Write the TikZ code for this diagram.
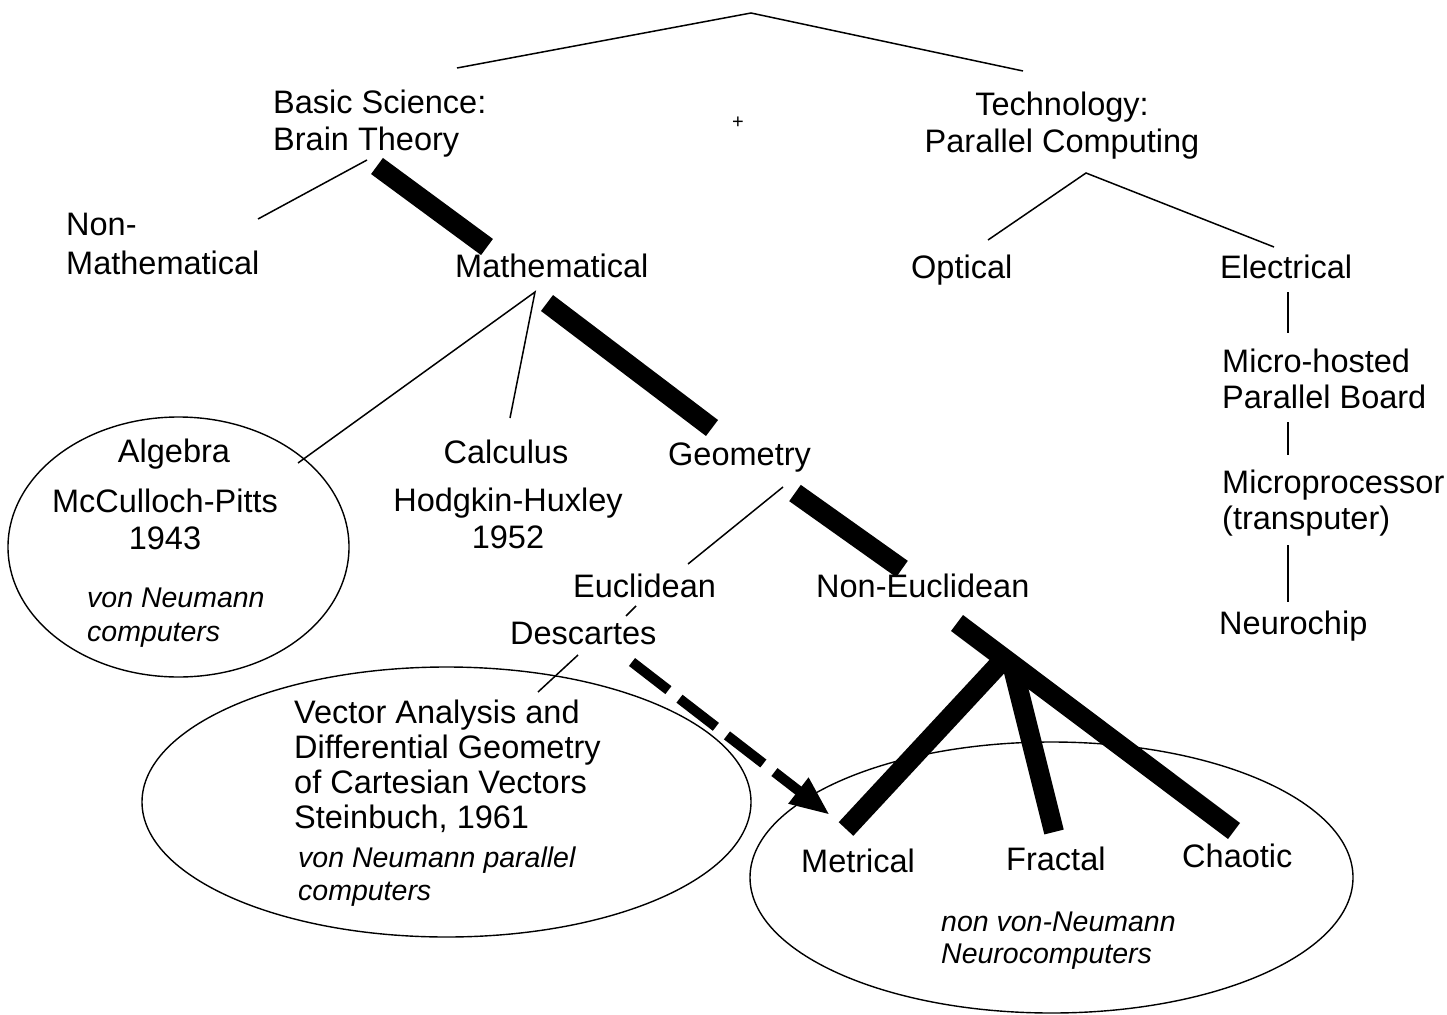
\documentclass[tikz,border=0pt]{standalone}
\usepackage{fontspec}
\setmainfont{Liberation Sans}
\usetikzlibrary{arrows.meta}
\begin{document}
\begin{tikzpicture}[x=1pt,y=-1pt,
  lbl/.style={inner sep=0pt, font=\fontsize{32.5}{#1}\selectfont},
  lbl/.default=37,
  ital/.style={inner sep=0pt, font=\fontsize{28.5}{#1}\selectfont\itshape, align=left, anchor=north west},
  ital/.default=33,
  thin/.style={line width=1.5pt},
  bar/.style={line width=20pt, line cap=butt},
  oval/.style={draw, line width=1.4pt},
  dasharrow/.style={line width=10pt, dash pattern=on 46pt off 14pt,
    -{Triangle[length=40pt,width=30pt]}}
]
\useasboundingbox (0,0) rectangle (1447,1014);

% ---------- enclosing ovals ----------
\draw[oval] (178.5,547) ellipse [x radius=170.5, y radius=130];
\draw[oval] (446.5,802) ellipse [x radius=304.5, y radius=135];
\draw[oval] (1051.5,877.5) ellipse [x radius=301.5, y radius=135.5];

% ---------- labels ----------
\node[lbl, align=left, anchor=north west] (basic) at (273,89.5) {Basic Science:\\Brain Theory};
\node[lbl, align=center, anchor=north] (tech) at (1062,91.5) {Technology:\\Parallel Computing};
\node[inner sep=0pt, font=\fontsize{20}{24}\selectfont] (plus) at (738,123) {+};

\node[lbl=39, align=left, anchor=north west] (nonmath) at (66,213) {Non-\\Mathematical};
\node[lbl, anchor=base west] (math) at (455,277) {Mathematical};
\node[lbl, anchor=base west] (optical) at (911,278) {Optical};
\node[lbl, anchor=base west] (electrical) at (1220,278) {Electrical};

\node[lbl=36.5, align=left, anchor=north west] (board) at (1222,348.5) {Micro-hosted\\Parallel Board};
\node[lbl=36, align=left, anchor=north west] (cpu) at (1222,469.5) {Microprocessor\\(transputer)};
\node[lbl, anchor=base west] (neurochip) at (1219,634) {Neurochip};

\node[lbl, anchor=base] (algebra) at (174,462) {Algebra};
\node[lbl, align=center, anchor=north] (mcp) at (165,488.5) {McCulloch-Pitts\\1943};
\node[ital=34] (vn1) at (87,588) {von Neumann\\computers};

\node[lbl, anchor=base] (calculus) at (506,463) {Calculus};
\node[lbl, align=center, anchor=north] (hh) at (508,487.5) {Hodgkin-Huxley\\1952};

\node[lbl, anchor=base west] (geometry) at (668,465) {Geometry};
\node[lbl, anchor=base west] (eucl) at (573,597) {Euclidean};
\node[lbl, anchor=base west] (noneucl) at (816,597) {Non-Euclidean};
\node[lbl, anchor=base west] (descartes) at (510,644) {Descartes};

\node[lbl=35, align=left, anchor=north west] (vector) at (294,699.5)
  {Vector Analysis and\\Differential Geometry\\of Cartesian Vectors\\Steinbuch, 1961};
\node[ital] (vn2) at (298,847) {von Neumann parallel\\computers};

\node[lbl, anchor=base west] (metrical) at (801,872) {Metrical};
\node[lbl, anchor=base west] (fractal) at (1006,870) {Fractal};
\node[lbl, anchor=base west] (chaotic) at (1182,867) {Chaotic};
\node[ital=32] (vn3) at (941,912) {non von-Neumann\\Neurocomputers};

% ---------- connector end points ----------
\coordinate (root) at (751,13);
\coordinate (basic-in) at (457,68);
\coordinate (tech-in) at (1023,71);
\coordinate (basic-out) at (367,160);
\coordinate (nonmath-in) at (258,219);
\coordinate (tech-out) at (1086,173);
\coordinate (optical-in) at (988,240);
\coordinate (electrical-in) at (1274,247);
\coordinate (electrical-out) at (1288,292);
\coordinate (board-in) at (1288,333);
\coordinate (board-out) at (1288,422);
\coordinate (cpu-in) at (1288,455);
\coordinate (cpu-out) at (1288,545);
\coordinate (neurochip-in) at (1288,602);
\coordinate (math-out) at (535,292);
\coordinate (algebra-in) at (298,463);
\coordinate (calculus-in) at (510,418);
\coordinate (geometry-out) at (783,487);
\coordinate (eucl-in) at (688,564);
\coordinate (eucl-out) at (636,606);
\coordinate (descartes-in) at (626,616);
\coordinate (descartes-out) at (578,655);
\coordinate (vector-in) at (538,692);
\coordinate (descartes-arr) at (632,662);
\coordinate (metrical-arr) at (830,815);

\coordinate (bar1-a) at (377,166);  \coordinate (bar1-b) at (487,247);
\coordinate (bar2-a) at (547,303);  \coordinate (bar2-b) at (712,428);
\coordinate (bar3-a) at (795,493);  \coordinate (bar3-b) at (902,569);
\coordinate (fork-top) at (957,623); \coordinate (chaotic-in) at (1234,831);
\coordinate (fork-m) at (1003,660); \coordinate (metrical-in) at (846,829);
\coordinate (fork-f) at (1012,664); \coordinate (fractal-in) at (1054,832);

% ---------- thin branches ----------
\draw[thin] (basic-in) -- (root) -- (tech-in);
\draw[thin] (basic-out) -- (nonmath-in);
\draw[thin] (optical-in) -- (tech-out) -- (electrical-in);
\draw[thin] (algebra-in) -- (math-out) -- (calculus-in);
\draw[thin] (geometry-out) -- (eucl-in);
\draw[thin] (eucl-out) -- (descartes-in);
\draw[thin] (descartes-out) -- (vector-in);
\draw[thin] (electrical-out) -- (board-in);
\draw[thin] (board-out) -- (cpu-in);
\draw[thin] (cpu-out) -- (neurochip-in);

% ---------- heavy path ----------
\draw[bar] (bar1-a) -- (bar1-b);
\draw[bar] (bar2-a) -- (bar2-b);
\draw[bar] (bar3-a) -- (bar3-b);
\draw[bar] (fork-top) -- (chaotic-in);
\draw[bar] (fork-m) -- (metrical-in);
\draw[bar] (fork-f) -- (fractal-in);

% ---------- Descartes to Metrical ----------
\draw[dasharrow] (descartes-arr) -- (metrical-arr);
\end{tikzpicture}
\end{document}
